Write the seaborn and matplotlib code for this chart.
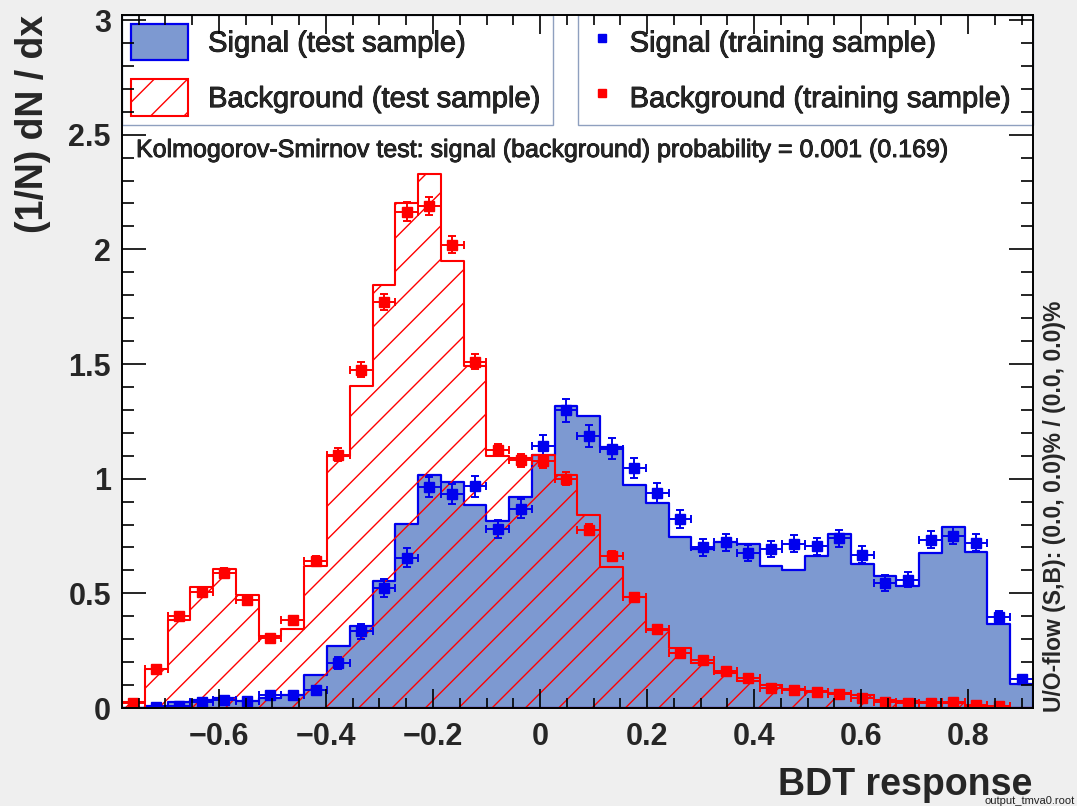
import numpy as np
import pandas as pd
import seaborn as sns
import matplotlib.pyplot as plt
import matplotlib.patheffects as pe
from matplotlib.patches import Patch
from matplotlib.lines import Line2D
from matplotlib.ticker import MultipleLocator, FuncFormatter

# binning of the BDT response (40 bins)
x_min, x_max, n_bins = -0.781, 0.921, 40

# test samples (histograms)
sig_test = [0.0, 0.008, 0.024, 0.035, 0.045, 0.029, 0.045, 0.056, 0.142, 0.271,
            0.358, 0.552, 0.803, 1.018, 0.986, 0.885, 0.817, 0.919, 1.105, 1.316,
            1.273, 1.136, 0.974, 0.895, 0.744, 0.695, 0.725, 0.717, 0.618, 0.603,
            0.664, 0.760, 0.629, 0.574, 0.533, 0.676, 0.788, 0.680, 0.368, 0.106]
bkg_test = [0.024, 0.17, 0.385, 0.527, 0.605, 0.494, 0.316, 0.344, 0.619, 1.10,
            1.405, 1.844, 2.20, 2.33, 1.95, 1.49, 1.10, 1.09, 1.105, 1.015,
            0.84, 0.615, 0.485, 0.34, 0.26, 0.195, 0.153, 0.116, 0.10, 0.083,
            0.073, 0.065, 0.058, 0.033, 0.029, 0.025, 0.022, 0.01, 0.004, 0.0]

# training samples (points with errors)
sig_train = [np.nan, 0.005, 0.01, 0.024, 0.035, 0.032, 0.056, 0.056, 0.08, 0.197,
             0.335, 0.524, 0.656, 0.963, 0.934, 0.966, 0.78, 0.869, 1.144, 1.298,
             1.186, 1.131, 1.047, 0.938, 0.825, 0.70, 0.722, 0.676, 0.693, 0.717,
             0.705, 0.741, 0.669, 0.545, 0.56, 0.734, 0.751, 0.72, 0.397, 0.126]
sig_err = [np.nan, 0.004, 0.006, 0.009, 0.011, 0.011, 0.013, 0.013, 0.016, 0.025,
           0.032, 0.038, 0.04, 0.045, 0.044, 0.045, 0.04, 0.042, 0.045, 0.05,
           0.047, 0.046, 0.044, 0.042, 0.04, 0.037, 0.037, 0.036, 0.036, 0.037,
           0.037, 0.037, 0.036, 0.033, 0.033, 0.037, 0.038, 0.037, 0.028, 0.016]
bkg_train = [0.02, 0.17, 0.40, 0.508, 0.589, 0.471, 0.306, 0.384, 0.642, 1.105,
             1.476, 1.771, 2.165, 2.19, 2.02, 1.51, 1.125, 1.08, 1.076, 1.00,
             0.777, 0.663, 0.482, 0.345, 0.238, 0.21, 0.162, 0.131, 0.087, 0.080,
             0.070, 0.062, 0.044, 0.025, 0.022, 0.022, 0.025, 0.015, 0.007, np.nan]
bkg_err = [0.006, 0.012, 0.018, 0.02, 0.022, 0.02, 0.016, 0.018, 0.022, 0.028,
           0.032, 0.035, 0.04, 0.04, 0.038, 0.033, 0.028, 0.028, 0.028, 0.027,
           0.024, 0.022, 0.019, 0.016, 0.013, 0.012, 0.011, 0.01, 0.008, 0.008,
           0.007, 0.007, 0.006, 0.005, 0.004, 0.004, 0.005, 0.004, 0.003, np.nan]

edges = np.linspace(x_min, x_max, n_bins + 1)
centers = 0.5 * (edges[:-1] + edges[1:])
half = 0.5 * (edges[1] - edges[0])

df = pd.DataFrame({"x": centers, "sig_test": sig_test, "bkg_test": bkg_test,
                   "sig_train": sig_train, "sig_err": sig_err,
                   "bkg_train": bkg_train, "bkg_err": bkg_err})

sns.set_style("ticks")
plt.rcParams['font.family'] = ['Liberation Sans', 'DejaVu Sans']
plt.rcParams['hatch.linewidth'] = 1.0

BLUE = '#0000ee'
FILL = '#7d99d1'
RED = '#ff0000'
narrow = ['Liberation Sans Narrow', 'Liberation Sans', 'DejaVu Sans']
heavy = [pe.withStroke(linewidth=0.6, foreground='black')]

fig = plt.figure(figsize=(10.77, 8.06), dpi=100, facecolor='#efefef')
ax = fig.add_axes([122/1077, 1 - 708/806, 911/1077, 693/806])
ax.set_facecolor('white')
ax.set_axisbelow(False)

sns.histplot(data=df, x="x", weights="sig_test", bins=edges.tolist(), element="step",
             fill=True, color=BLUE, facecolor=FILL, edgecolor=BLUE, linewidth=1.6, ax=ax)
sns.histplot(data=df, x="x", weights="bkg_test", bins=edges.tolist(), element="step",
             fill=True, color=RED, facecolor='none', edgecolor=RED, hatch='/',
             linewidth=1.5, ax=ax)

ax.errorbar(df["x"], df["sig_train"], xerr=half, yerr=df["sig_err"], fmt='s',
            color=BLUE, ms=6.5, elinewidth=1.4, capsize=3, capthick=1.4, zorder=2.2)
ax.errorbar(df["x"], df["bkg_train"], xerr=half, yerr=df["bkg_err"], fmt='s',
            color=RED, ms=6.5, elinewidth=1.4, capsize=3, capthick=1.4, zorder=2.2)

ax.set_xlim(x_min, x_max)
ax.set_ylim(0, 3.022)
ax.set_xlabel('')
ax.set_ylabel('')

ax.xaxis.set_major_locator(MultipleLocator(0.2))
ax.xaxis.set_minor_locator(MultipleLocator(0.05))
ax.yaxis.set_major_locator(MultipleLocator(0.5))
ax.yaxis.set_minor_locator(MultipleLocator(0.1))
fmt = FuncFormatter(lambda v, p: f"{round(v, 3):g}".replace('-', '\u2212'))
ax.xaxis.set_major_formatter(fmt)
ax.yaxis.set_major_formatter(fmt)
ax.tick_params(axis='both', which='both', direction='in', top=True, right=True,
               width=1.2, color='black')
ax.tick_params(axis='x', which='major', length=14, pad=10)
ax.tick_params(axis='x', which='minor', length=7)
ax.tick_params(axis='y', which='major', length=17, pad=8)
ax.tick_params(axis='y', which='minor', length=8.5)
for lab in ax.get_xticklabels() + ax.get_yticklabels():
    lab.set_fontfamily(narrow)
    lab.set_fontweight('bold')
    lab.set_fontsize(22)
for s in ax.spines.values():
    s.set_visible(True)
    s.set_color('black')
    s.set_linewidth(1.4)

# legends
h_sig = Patch(facecolor=FILL, edgecolor=BLUE, lw=1.6, label='Signal (test sample)')
h_bkg = Patch(facecolor='none', edgecolor=RED, hatch='/', lw=1.5,
              label='Background (test sample)')
leg1 = ax.legend(handles=[h_sig, h_bkg], loc='upper left',
                 bbox_to_anchor=(0.0, 0.8, 431/911, 0.2), mode='expand',
                 borderaxespad=0, borderpad=0.3, fontsize=21, handlelength=1.95,
                 handleheight=1.55, handletextpad=0.7, labelspacing=0.65,
                 fancybox=False, framealpha=1, edgecolor='#8fa0bf')
leg1.get_frame().set_linewidth(1.0)
leg1.set_zorder(2.4)
ax.add_artist(leg1)

h_st = Line2D([], [], marker='s', color=BLUE, ls='none', ms=5.5,
              label='Signal (training sample)')
h_bt = Line2D([], [], marker='s', color=RED, ls='none', ms=5.5,
              label='Background (training sample)')
leg2 = ax.legend(handles=[h_st, h_bt], loc='upper left',
                 bbox_to_anchor=(456/911, 0.8, 455/911, 0.2), mode='expand',
                 borderaxespad=0, borderpad=0.3, fontsize=21, handlelength=1.05,
                 handleheight=1.55, handletextpad=0.42, labelspacing=0.65,
                 fancybox=False, framealpha=1, edgecolor='#8fa0bf')
leg2.get_frame().set_linewidth(1.0)
leg2.set_zorder(2.4)
for t in leg1.get_texts() + leg2.get_texts():
    t.set_path_effects(heavy)

ax.text(14/911, (708-157)/693, 'Kolmogorov-Smirnov test: signal (background) '
        'probability = 0.001 (0.169)', transform=ax.transAxes, fontsize=18,
        va='baseline', ha='left', path_effects=heavy, zorder=2.3)

fig.text(33/1077, 1 - 15/806, '(1/N) dN / dx', rotation=90, ha='center',
         va='top', fontsize=27, fontweight='bold', family=narrow)
fig.text(1075/1077, 0, 'output_tmva0.root', ha='right', va='bottom',
         fontsize=8, color='#222222', zorder=0)
fig.text(1032/1077, 11/806, 'BDT response', ha='right', va='baseline',
         fontsize=27, fontweight='bold', family=narrow, zorder=3)
fig.text(1055/1077, 1 - 712/806, 'U/O-flow (S,B): (0.0, 0.0)% / (0.0, 0.0)%',
         rotation=90, ha='center', va='bottom', fontsize=16.5, fontweight='bold')

fig.savefig('out.png', dpi=100, facecolor=fig.get_facecolor())
